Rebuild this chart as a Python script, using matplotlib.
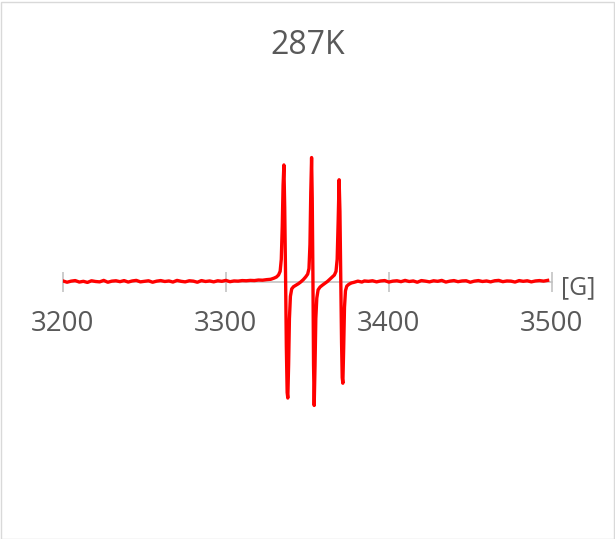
import numpy as np
import matplotlib
matplotlib.use('Agg')
import matplotlib.pyplot as plt
from matplotlib.patches import Rectangle

# EPR spectrum at 287 K (field in gauss, intensity in arbitrary units)
title = '287K'
unit_label = '[G]'
tick_values = [3200, 3300, 3400, 3500]

left_field = np.arange(3200.0, 3326.0, 2.5)
left_signal = [0.003, -0.004, 0.002, 0.005, -0.003, 0.001, -0.005, 0.004, 0.000, -0.002,
               0.006, -0.004, 0.002, 0.004, -0.001, 0.005, -0.003, 0.003, 0.006, -0.002,
               0.001, 0.004, -0.004, 0.002, 0.005, 0.000, 0.003, -0.003, 0.006, 0.001,
               -0.002, 0.004, 0.002, -0.004, 0.005, 0.000, 0.003, -0.002, 0.004, 0.001,
               0.006, -0.001, 0.003, 0.002, 0.005, 0.004, 0.006, 0.005, 0.008, 0.007,
               0.010]

peak_field = [3327.5, 3329.5, 3331.0, 3332.3, 3333.3, 3334.0, 3334.6, 3335.1, 3335.6, 3336.1,
              3336.6, 3337.1, 3337.6, 3338.0, 3338.5, 3339.0, 3339.6, 3340.4, 3341.5, 3343.0,
              3344.5, 3346.0, 3347.5, 3349.0, 3350.2, 3351.0, 3351.6, 3352.1, 3352.6, 3353.0,
              3353.4, 3353.8, 3354.2, 3354.7, 3355.2, 3355.8, 3356.6, 3357.8, 3359.2, 3360.8,
              3362.3, 3363.8, 3365.3, 3366.6, 3367.6, 3368.3, 3368.9, 3369.5, 3370.0, 3370.5,
              3371.0, 3371.4, 3371.8, 3372.3, 3372.8, 3373.4, 3374.2, 3375.5, 3377.0, 3378.8,
              3381.0, 3383.5, 3385.0]
peak_signal = [0.012, 0.018, 0.024, 0.035, 0.055, 0.12, 0.30, 0.52, 0.63, 0.40,
               0.05, -0.35, -0.60, -0.63, -0.45, -0.20, -0.08, -0.04, -0.028, -0.02,
               -0.012, -0.002, 0.01, 0.025, 0.04, 0.07, 0.20, 0.48, 0.67, 0.45,
               0.05, -0.45, -0.67, -0.46, -0.20, -0.09, -0.045, -0.03, -0.02, -0.01,
               0.0, 0.012, 0.024, 0.035, 0.055, 0.12, 0.32, 0.55, 0.38, 0.02,
               -0.33, -0.52, -0.55, -0.36, -0.14, -0.05, -0.025, -0.015, -0.008, -0.004,
               0.002, -0.003, 0.003]

right_field = np.arange(3387.5, 3499.0, 2.5)
right_signal = [0.001, 0.004, -0.002, 0.003, 0.005, -0.003, 0.002, 0.004, -0.001, 0.006,
                0.000, 0.003, -0.004, 0.005, 0.002, -0.002, 0.004, 0.001, 0.006, -0.003,
                0.002, 0.005, -0.001, 0.003, 0.004, -0.004, 0.002, 0.005, 0.000, 0.003,
                -0.002, 0.004, 0.006, -0.001, 0.003, 0.002, -0.003, 0.005, 0.001, 0.004,
                -0.002, 0.003, 0.005, 0.002, 0.006]

field = np.concatenate([left_field, peak_field, right_field])
signal = np.concatenate([left_signal, peak_signal, right_signal])

plt.rc('font', family='Open Sans')
grey_text = '#595959'
grey_axis = '#BFBFBF'

fig = plt.figure(figsize=(6.15, 5.39), dpi=100)
ax = fig.add_axes([63 / 615, (539 - 466.5) / 539, (551.7 - 63) / 615, 370 / 539])

ax.plot(field, signal, color='#FF0000', lw=2.4, solid_joinstyle='round', zorder=3)

ax.set_xlim(3200, 3500)
ax.set_ylim(-1, 1)
for s in ['top', 'right', 'left']:
    ax.spines[s].set_visible(False)
ax.spines['bottom'].set_position(('data', 0))
ax.spines['bottom'].set_color(grey_axis)
ax.spines['bottom'].set_linewidth(1.1)
ax.spines['bottom'].set_zorder(1)
ax.set_yticks([])
ax.set_xticks(tick_values)
ax.set_xticklabels([str(t) for t in tick_values])
ax.tick_params(axis='x', direction='inout', length=14.4, width=1.1, color=grey_axis,
               labelsize=20, labelcolor=grey_text, pad=13)

fig.text(0.5, 1 - 45 / 539, title, ha='center', va='center', fontsize=23, color=grey_text)
fig.text(578 / 615, 1 - 288 / 539, unit_label, ha='center', va='center', fontsize=18, color=grey_text)

fig.patches.append(Rectangle((0.5 / 615, 0.5 / 539), 613 / 615, 537 / 539, transform=fig.transFigure,
                             fill=False, edgecolor='#D9D9D9', lw=1.0))

fig.savefig('out.png', dpi=100)
